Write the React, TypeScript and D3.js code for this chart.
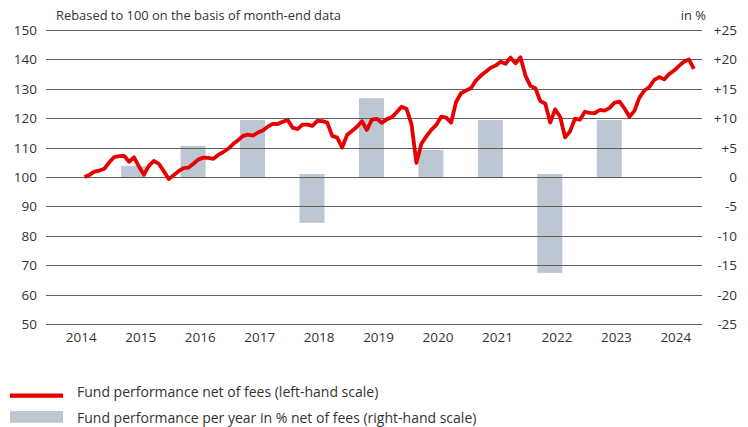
import React, { useEffect, useRef } from 'react';
import * as d3 from 'd3';

const WIDTH = 748;
const HEIGHT = 427;

const COLORS = {
  line: '#e60000',
  bar: '#bdc6d3',
  grid: '#5f5f5f',
  text: '#333333'
};

// month-end index values, first point July 2014
const START_YEAR = 2014;
const START_MONTH = 7;
const fundIndex = [
  100, 100.7, 101.8, 102.2, 102.8, 105, 106.8, 107.1, 107.2, 105.2, 106.7, 103.5, 100.8,
  103.8, 105.5, 104.5, 102, 99.3, 100.6, 102, 103, 103.2, 104.5, 106, 106.6,
  106.5, 106.2, 107.5, 108.5, 109.6, 111.2, 112.5, 114, 114.4, 114.1, 115.1, 115.8,
  117.1, 118.1, 118, 118.8, 119.4, 116.8, 116.3, 117.8, 117.8, 117.4, 119.1, 119,
  118.5, 114, 113.4, 110, 114.3, 115.7, 117.1, 119, 116, 119.5, 119.8, 118.4,
  119.6, 120.3, 122, 123.9, 123.2, 118, 104.8, 111.3, 113.8, 116, 117.7,
  120.5, 120.2, 118.5, 125.5, 128.5, 129.4, 130.2, 132.8, 134.5, 135.8, 137.2, 137.9,
  139.2, 138.5, 140.6, 138.7, 140.7, 134.5, 131, 130.2, 125.8, 125, 118.5, 123,
  120.5, 113.5, 115.5,
  119.8, 119.5, 122.2, 121.8, 121.7, 122.8, 122.6, 123.5, 125.3, 125.6, 123.3, 120.5,
  122.5, 127, 129.4, 130.6, 133, 134, 133.2, 135, 136.2, 137.8, 139.2, 140, 136.8
];

const barYears = [2015, 2016, 2017, 2018, 2019, 2020, 2021, 2022, 2023];
const annualReturns = [1.9, 5.3, 9.7, -7.8, 13.4, 4.6, 9.7, -16.3, 9.7];

const yearLabels = [2014, 2015, 2016, 2017, 2018, 2019, 2020, 2021, 2022, 2023, 2024];
const leftTicks = [50, 60, 70, 80, 90, 100, 110, 120, 130, 140, 150];
const rightTicks = [-25, -20, -15, -10, -5, 0, 5, 10, 15, 20, 25];

const FONT = '"Open Sans", "Noto Sans", sans-serif';

function drawChart(node: SVGSVGElement) {
  const svg = d3.select(node);
  svg.selectAll('*').remove();

  const plot = { left: 46, right: 702, top: 30, bottom: 324 };

  const x = d3.scaleLinear().domain([2013.936, 2024.97]).range([plot.left, plot.right]);
  const y = d3.scaleLinear().domain([50, 150]).range([plot.bottom, plot.top]);
  const y2 = d3.scaleLinear().domain([-25, 25]).range([plot.bottom, plot.top]);

  // bars first, grid lines drawn over them
  svg.append('g')
    .selectAll('rect')
    .data(barYears.map((year, i) => ({ year, value: annualReturns[i] })))
    .join('rect')
    .attr('x', (d) => x(d.year + 0.41) - 12.5)
    .attr('width', 25)
    .attr('y', (d) => (d.value >= 0 ? y2(d.value) : y2(0) - 3))
    .attr('height', (d) => Math.abs(y2(d.value) - y2(0)) + (d.value < 0 ? 3 : 0))
    .attr('fill', COLORS.bar);

  svg.append('g')
    .selectAll('line')
    .data(leftTicks)
    .join('line')
    .attr('x1', plot.left)
    .attr('x2', plot.right)
    .attr('y1', (d) => Math.round(y(d)) + 0.5)
    .attr('y2', (d) => Math.round(y(d)) + 0.5)
    .attr('stroke', COLORS.grid)
    .attr('stroke-width', 1.2);

  svg.append('g')
    .selectAll('text')
    .data(leftTicks)
    .join('text')
    .attr('x', 37)
    .attr('y', (d) => y(d) + 5)
    .attr('text-anchor', 'end')
    .attr('font-size', 13.5)
    .attr('fill', COLORS.text)
    .text((d) => d);

  svg.append('g')
    .selectAll('text')
    .data(rightTicks)
    .join('text')
    .attr('x', 737)
    .attr('y', (d) => y2(d) + 5)
    .attr('text-anchor', 'end')
    .attr('font-size', 13.5)
    .attr('fill', COLORS.text)
    .text((d) => (d > 0 ? `+${d}` : `${d}`));

  svg.append('g')
    .selectAll('text')
    .data(yearLabels)
    .join('text')
    .attr('x', (d) => x(d + 0.53))
    .attr('y', 342)
    .attr('text-anchor', 'middle')
    .attr('font-size', 13.5)
    .attr('fill', COLORS.text)
    .text((d) => d);

  const line = d3.line<number>()
    .x((_, i) => x(START_YEAR + (START_MONTH + i) / 12))
    .y((d) => y(d));

  svg.append('path')
    .datum(fundIndex)
    .attr('fill', 'none')
    .attr('stroke', COLORS.line)
    .attr('stroke-width', 3.8)
    .attr('stroke-linejoin', 'round')
    .attr('d', line);

  svg.append('text')
    .attr('x', 56)
    .attr('y', 20)
    .attr('font-size', 12.9)
    .attr('fill', COLORS.text)
    .text('Rebased to 100 on the basis of month-end data');

  svg.append('text')
    .attr('x', 706)
    .attr('y', 20)
    .attr('text-anchor', 'end')
    .attr('font-size', 12.9)
    .attr('fill', COLORS.text)
    .text('in %');

  // legend
  svg.append('rect').attr('x', 10).attr('y', 393.5).attr('width', 53).attr('height', 4.3).attr('fill', COLORS.line);
  svg.append('text')
    .attr('x', 77)
    .attr('y', 397)
    .attr('font-size', 14)
    .attr('fill', COLORS.text)
    .text('Fund performance net of fees (left-hand scale)');

  svg.append('rect').attr('x', 10).attr('y', 411).attr('width', 53).attr('height', 11.7).attr('fill', COLORS.bar);
  svg.append('text')
    .attr('x', 77)
    .attr('y', 423)
    .attr('font-size', 14)
    .attr('fill', COLORS.text)
    .text('Fund performance per year in % net of fees (right-hand scale)');
}

export default function App() {
  const ref = useRef<SVGSVGElement>(null);

  useEffect(() => {
    if (ref.current) drawChart(ref.current);
  }, []);

  return (
    <div style={{ position: 'absolute', left: 0, top: 0 }}>
      <svg ref={ref} width={WIDTH} height={HEIGHT} style={{ display: 'block', fontFamily: FONT, background: '#fff' }} />
    </div>
  );
}
